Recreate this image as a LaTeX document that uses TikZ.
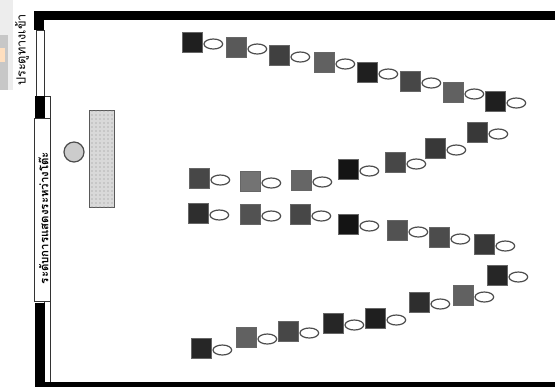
\documentclass[tikz,border=0pt]{standalone}
\usepackage{fontspec}
\usepackage{xcolor}
\usetikzlibrary{shapes.geometric,patterns}
\newfontfamily\thaifont[Script=Thai]{Loma}
\begin{document}
\begin{tikzpicture}[
  x=0.75pt, y=-0.75pt,
  wall/.style={fill=black, draw=none},
  desk/.style={draw=black!60, line width=0.7pt, minimum size=15pt, inner sep=0pt},
  tag/.style={draw=black!70, line width=0.9pt, fill=white, ellipse, minimum width=14pt, minimum height=7.5pt, inner sep=0pt},
  strip/.style={draw=black!80, line width=0.5pt, fill=white},
]
\useasboundingbox (0,0) rectangle (555,387);
\fill[black!7] (0,0) rectangle (13,90);
\fill[black!22] (0,35) rectangle (8,90);
\fill[orange!25] (0,48) rectangle (5,62);
% walls
\fill[wall] (34,11) rectangle (555,20);
\fill[wall] (34,11) rectangle (44,30);
\draw[strip] (36,30) rectangle (44,96);
\draw[strip] (44,96) rectangle (50,382);
\fill[wall] (35,96) rectangle (45,119);
\fill[wall] (35,303) rectangle (45,382);
\fill[wall] (35,382) rectangle (555,387);
\node[strip, minimum width=12pt, minimum height=137pt, inner sep=0pt] (stage) at (42,210) {};
\node[rotate=90, inner sep=0pt, font=\thaifont\bfseries\fontsize{8.6}{9}\selectfont] (stagetext) at (43.5,218) {ระดับการแสดงระหว่างโต๊ะ};
\node[rotate=90, inner sep=0pt, font=\thaifont\fontsize{9.5}{10}\selectfont] (gate) at (22,50) {ประตูทางเข้า};
% front
\node[circle, draw=black!70, line width=0.9pt, fill=black!20, minimum size=15pt, inner sep=0pt] (chair) at (74,152) {};
\node[draw=black!65, line width=0.8pt, fill=black!15, minimum width=19pt, minimum height=73pt, inner sep=0pt] (table) at (102,159) {};
\fill[pattern=dots, pattern color=black!45] (table.south west) rectangle (table.north east);
% rows of desks
\foreach \nm/\x/\y/\sh in {a1/192/42/88, a2/236/47/65, a3/279/55/75, a4/324/62/62, a5/367/72/88, a6/410/81/72, a7/453/92/62, a8/495/101/88,
  b1/477/132/78, b2/435/148/78, b3/395/162/72, b4/348/169/92, b5/301/180/60, b6/250/181/55, b7/199/178/72,
  c1/198/213/82, c2/250/214/68, c3/300/214/72, c4/348/224/92, c5/397/230/68, c6/439/237/70, c7/484/244/78,
  d1/497/275/85, d2/463/295/62, d3/419/302/82, d4/375/318/88, d5/333/323/85, d6/288/331/72, d7/246/337/62, d8/201/348/85}
  {\node[desk, fill=black!\sh] (\nm) at (\x,\y) {};
   \node[tag] (t\nm) at ([xshift=16pt,yshift=-1.5pt]\nm.center) {};}
\end{tikzpicture}
\end{document}
